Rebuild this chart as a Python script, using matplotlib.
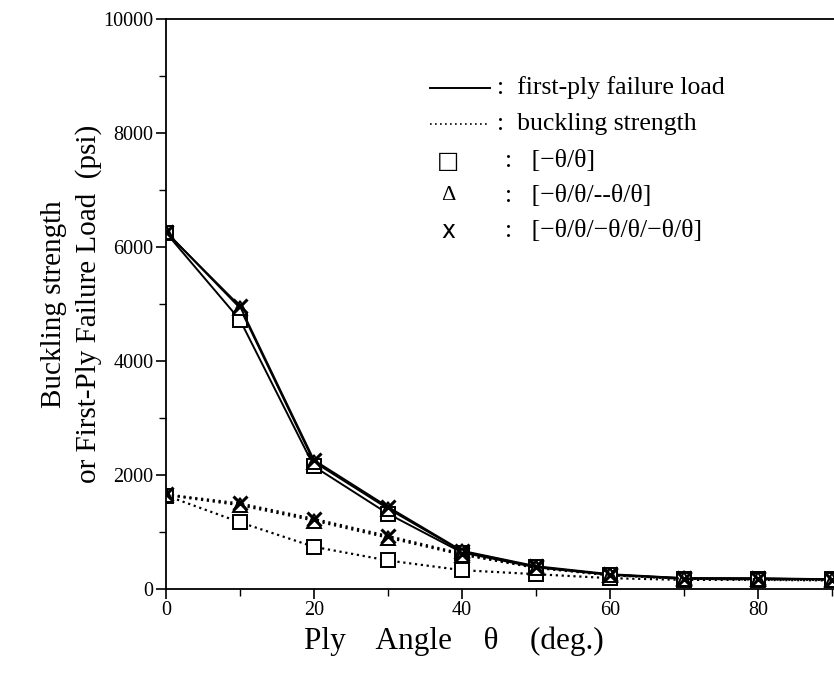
import numpy as np
import matplotlib.pyplot as plt
from matplotlib.lines import Line2D

# ply angle (deg)
angle = [0, 10, 20, 30, 40, 50, 60, 70, 80, 90]

# first-ply failure load (psi)
fpf_2 = [6250, 4720, 2150, 1320, 640, 380, 250, 180, 180, 170]
fpf_4 = [6270, 4930, 2230, 1410, 660, 390, 250, 190, 180, 170]
fpf_6 = [6260, 4960, 2260, 1440, 670, 400, 260, 190, 190, 170]

# buckling strength (psi)
buck_2 = [1640, 1170, 740, 500, 330, 260, 190, 160, 160, 150]
buck_4 = [1650, 1470, 1200, 900, 600, 370, 240, 180, 170, 160]
buck_6 = [1660, 1500, 1230, 930, 620, 380, 250, 180, 170, 160]

legend_labels = [':  first-ply failure load', ':  buckling strength',
                 ':   [\u2212\u03b8/\u03b8]', ':   [\u2212\u03b8/\u03b8/--\u03b8/\u03b8]',
                 ':   [\u2212\u03b8/\u03b8/\u2212\u03b8/\u03b8/\u2212\u03b8/\u03b8]']

plt.rcParams['font.family'] = ['Liberation Serif', 'DejaVu Serif']

fig = plt.figure(figsize=(8.34, 6.77), dpi=100)
ax = fig.add_axes([0.199, 0.130, 0.8873, 0.842])

mk = dict(markersize=10, markerfacecolor='white', markeredgecolor='black', markeredgewidth=1.4)
ax.plot(angle, fpf_2, '-', color='black', lw=1.4, marker='s', **mk)
ax.plot(angle, fpf_4, '-', color='black', lw=1.4, marker='^', **mk)
ax.plot(angle, fpf_6, '-', color='black', lw=1.4, marker='x', markersize=10, markeredgewidth=2.2)
ax.plot(angle, buck_2, ':', color='black', lw=1.6, marker='s', **mk)
ax.plot(angle, buck_4, ':', color='black', lw=1.6, marker='^', **mk)
ax.plot(angle, buck_6, ':', color='black', lw=1.6, marker='x', markersize=10, markeredgewidth=2.2)

ax.set_xlim(0, 100)
ax.set_ylim(0, 10000)
ax.set_xticks([0, 20, 40, 60, 80])
ax.set_xticks([10, 30, 50, 70, 90], minor=True)
ax.set_yticks([0, 2000, 4000, 6000, 8000, 10000])
ax.set_yticks([1000, 3000, 5000, 7000, 9000], minor=True)
ax.tick_params(which='major', direction='out', length=7, width=1.2, labelsize=14.5, pad=2)
ax.tick_params(which='minor', direction='out', length=5, width=1.0)
ax.spines['right'].set_visible(False)
for s in ['left', 'bottom', 'top']:
    ax.spines[s].set_linewidth(1.3)

ax.set_ylabel('Buckling strength\nor First-Ply Failure Load  (psi)', fontsize=21, linespacing=1.38)
ax.yaxis.set_label_coords(-0.087, 0.5)
ax.set_xlabel('Ply    Angle    \u03b8    (deg.)', fontsize=22.5)
ax.xaxis.set_label_coords(0.389, -0.066)

# legend drawn by hand
rows = [88, 124, 161, 196, 231]
def fy(p):
    return (589 - p) / 570.0
def fx(p):
    return (p - 166) / 740.0
ax.add_line(Line2D([fx(430), fx(490)], [fy(rows[0])] * 2, transform=ax.transAxes, color='black', lw=1.4))
ax.add_line(Line2D([fx(430), fx(490)], [fy(rows[1])] * 2, transform=ax.transAxes, color='black', lw=1.2, ls=(0, (1, 2))))
ax.text(fx(448), fy(rows[2]), '\u25a1', transform=ax.transAxes, ha='center', va='center', fontsize=17, family='DejaVu Sans')
ax.text(fx(448), fy(rows[3]), '\u0394', transform=ax.transAxes, ha='center', va='center', fontsize=16)
ax.text(fx(448), fy(rows[4]), 'x', transform=ax.transAxes, ha='center', va='center', fontsize=17, family='DejaVu Sans')
for r, lab, x0 in zip(rows, legend_labels, [497, 497, 505, 505, 505]):
    ax.text(fx(x0), fy(r), lab, transform=ax.transAxes, ha='left', va='center', fontsize=18.5)

fig.savefig('out.png', dpi=100)
